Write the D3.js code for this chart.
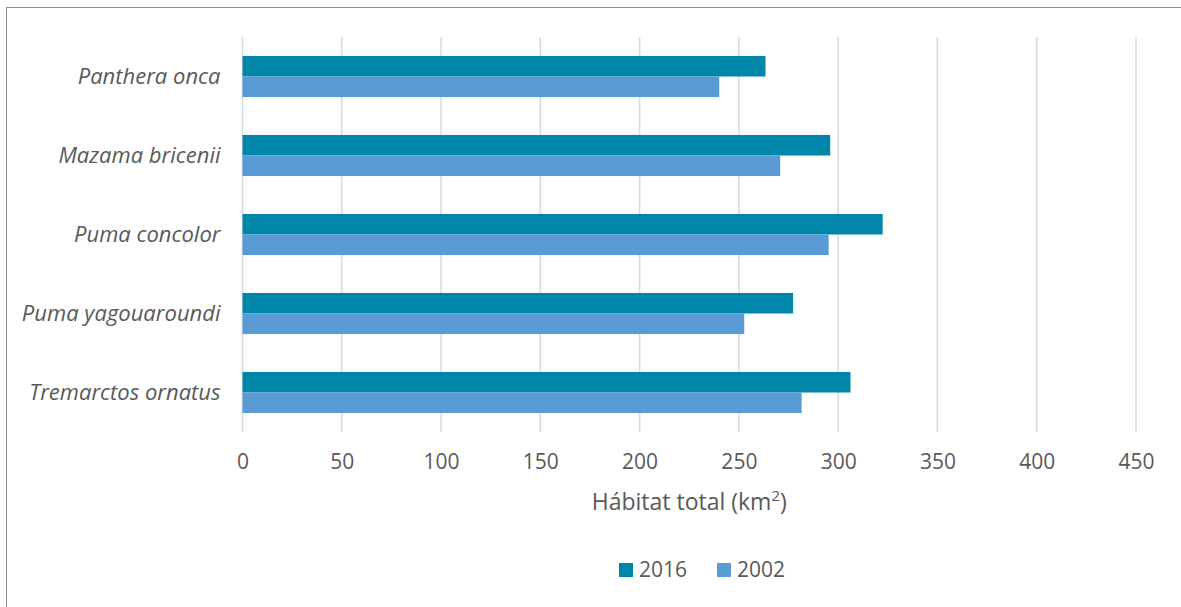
<!DOCTYPE html>
<html>
<head>
<meta charset="utf-8">
<script src="https://cdn.jsdelivr.net/npm/d3@7"></script>
<style>
  html, body { margin: 0; padding: 0; background: #fff; }
  svg { display: block; }
</style>
</head>
<body>
<svg id="chart" width="1181" height="607"></svg>
<script>
// Species (top to bottom) and total habitat per year, km²
const species = ["Panthera onca", "Mazama bricenii", "Puma concolor", "Puma yagouaroundi", "Tremarctos ornatus"];
const years = ["2016", "2002"];
const habitat2016 = [263.4, 296.0, 322.4, 277.3, 306.2];
const habitat2002 = [240.1, 270.8, 295.2, 252.7, 281.6];
const xTicks = [0, 50, 100, 150, 200, 250, 300, 350, 400, 450];
const colors = { "2016": "#0086a8", "2002": "#5b9bd5" };

const svg = d3.select("#chart");
const font = "'Open Sans', sans-serif";
const textColor = "#595959";

// Chart frame (continues past the right and bottom edges)
svg.append("rect")
  .attr("x", 6.5).attr("y", 7.5)
  .attr("width", 1200).attr("height", 620)
  .attr("fill", "#fff")
  .attr("stroke", "#8c8c8c").attr("stroke-width", 1);

const plot = { left: 242.5, right: 1136, top: 37, bottom: 432 };

const x = d3.scaleLinear().domain([0, 450]).range([plot.left, plot.right]);
const y = d3.scaleBand().domain(species).range([plot.top, plot.bottom])
  .paddingInner(0.48).paddingOuter(0.24);
const ySub = d3.scaleBand().domain(years).range([0, y.bandwidth()]);

// Vertical gridlines
svg.append("g")
  .selectAll("line")
  .data(xTicks)
  .join("line")
  .attr("x1", d => x(d)).attr("x2", d => x(d))
  .attr("y1", plot.top).attr("y2", plot.bottom)
  .attr("stroke", "#d9d9d9").attr("stroke-width", 1.5);

// Bars
const rows = species.map((s, i) => ({ s, vals: [
  { year: "2016", v: habitat2016[i] },
  { year: "2002", v: habitat2002[i] }
]}));

const groups = svg.append("g").selectAll("g")
  .data(rows)
  .join("g")
  .attr("transform", d => `translate(0,${y(d.s)})`);

groups.selectAll("rect")
  .data(d => d.vals)
  .join("rect")
  .attr("x", x(0))
  .attr("y", d => ySub(d.year))
  .attr("width", d => x(d.v) - x(0))
  .attr("height", ySub.bandwidth())
  .attr("fill", d => colors[d.year]);

// Category axis labels
const yAxis = d3.axisLeft(y).tickSize(0).tickPadding(22);
const gy = svg.append("g").attr("transform", `translate(${plot.left},0)`).call(yAxis);
gy.select(".domain").remove();
gy.selectAll("text")
  .attr("font-family", font).attr("font-size", 22)
  .attr("font-style", "italic")
  .attr("fill", textColor);

// Value axis labels
const xAxis = d3.axisBottom(x).tickValues(xTicks).tickSize(0).tickPadding(22);
const gx = svg.append("g").attr("transform", `translate(0,${plot.bottom})`).call(xAxis);
gx.select(".domain").remove();
gx.selectAll("text")
  .attr("font-family", font).attr("font-size", 21)
  .attr("fill", textColor);

// Axis title
const title = svg.append("text")
  .attr("x", (plot.left + plot.right) / 2)
  .attr("y", 510)
  .attr("text-anchor", "middle")
  .attr("font-family", font).attr("font-size", 23)
  .attr("fill", textColor);
title.append("tspan").text("Hábitat total (km");
title.append("tspan").attr("font-size", 15).attr("dy", -9).text("2");
title.append("tspan").attr("dy", 9).text(")");

// Legend
const legendItems = [
  { year: "2016", x: 619 },
  { year: "2002", x: 717 }
];
const lg = svg.append("g").selectAll("g")
  .data(legendItems)
  .join("g")
  .attr("transform", d => `translate(${d.x},563)`);
lg.append("rect")
  .attr("width", 14).attr("height", 14)
  .attr("fill", d => colors[d.year]);
lg.append("text")
  .attr("x", 20).attr("y", 14)
  .attr("font-family", font).attr("font-size", 21)
  .attr("fill", textColor)
  .text(d => d.year);
</script>
</body>
</html>
